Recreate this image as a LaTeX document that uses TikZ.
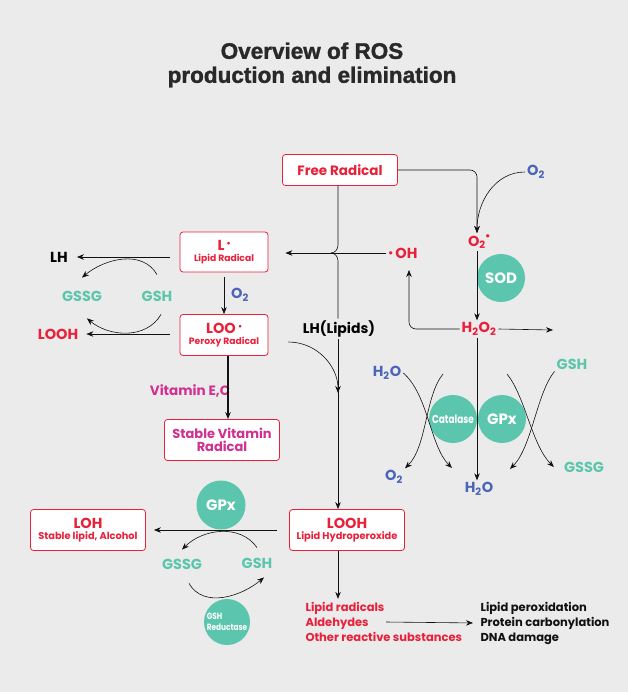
\documentclass[tikz,border=0pt]{standalone}
\usepackage{fontspec}
\setmainfont{Poppins}
\newfontfamily\titlefont[BoldFeatures={FakeBold=1.5}]{Liberation Sans}
\usetikzlibrary{positioning,arrows.meta}
\definecolor{paper}{HTML}{EBEBEB}
\definecolor{rosred}{HTML}{E8203A}
\definecolor{enzteal}{HTML}{5BC6AD}
\definecolor{oxblue}{HTML}{4A64B8}
\definecolor{vitpink}{HTML}{D22F90}
\definecolor{ink}{HTML}{111111}
\newcommand{\rdot}{\raisebox{0.55ex}{\scalebox{0.5}{$\bullet$}}}
\newcommand{\two}{\textsubscript{2}}
\tikzset{
  rbox/.style={draw=rosred,fill=white,rounded corners=3pt,line width=0.8pt,align=center,text=rosred,inner sep=2pt,font=\bfseries\fontsize{14.5}{15}\selectfont},
  enz/.style={circle,fill=enzteal,text=white,inner sep=0pt,minimum size=48pt,align=center,font=\bfseries\fontsize{15}{16}\selectfont},
  mol/.style={font=\bfseries\fontsize{14.5}{16}\selectfont,inner sep=2pt},
  listtxt/.style={font=\bfseries\fontsize{11.5}{15}\selectfont,align=left,anchor=west},
  boxsub/.style={font=\bfseries\fontsize{9.8}{11}\selectfont},
  flow/.style={-{Stealth[length=7pt,width=5.5pt]},draw=ink,line width=0.6pt},
  link/.style={draw=ink,line width=0.6pt}}

\begin{document}
\begin{tikzpicture}[x=1pt,y=1pt]
  \useasboundingbox[fill=paper] (0,0) rectangle (628,-692);
  \node[font=\titlefont\bfseries\fontsize{22.5}{24}\selectfont,text=ink!90,align=center] (title) at (312,-65)
    {Overview of ROS\\production and elimination};
  % sources
  \node[rbox,font=\bfseries\fontsize{13.5}{15}\selectfont,minimum width=115pt,minimum height=31pt] (fr) at (340,-170) {Free Radical};
  \node[rbox,minimum width=88pt,minimum height=40pt] (lrad) at (224,-252)
    {L\,\rdot\\[-4pt]{\fontsize{9.2}{10}\selectfont Lipid Radical}};
  \node[rbox,minimum width=88pt,minimum height=41pt] (loo) at (224,-335)
    {LOO\,\rdot\\[-4pt]{\fontsize{9.2}{10}\selectfont Peroxy Radical}};
  \node[mol] (lh) at (59,-257) {LH};
  \node[mol,text=enzteal] (gssgA) at (82,-296) {GSSG};
  \node[mol,text=enzteal] (gshA) at (157,-296) {GSH};
  \node[mol,text=rosred] (loohA) at (58,-334) {LOOH};
  \node[mol,text=oxblue] (o2A) at (240,-295) {O\two};
  \node[mol,font=\bfseries\fontsize{14}{16}\selectfont] (lhl) at (339,-329) {LH(Lipids)};
  \node[mol,text=rosred] (oh) at (403,-253) {\raisebox{0.3ex}{\scalebox{0.6}{$\bullet$}}\,OH};
  % superoxide side
  \node[mol,text=oxblue] (o2B) at (536,-172) {O\two};
  \node[mol,text=rosred] (supox) at (479,-242) {O\two\raisebox{0.9ex}{\scalebox{0.6}{$\bullet$}}};
  \node[enz] (sod) at (501,-278) {SOD};
  \node[mol,text=rosred] (hp) at (479,-329) {H\two O\two};
  \node[enz,font=\bfseries\fontsize{11.5}{12}\selectfont] (cat) at (453,-419) {\scalebox{0.78}[1]{Catalase}};
  \node[enz] (gpxA) at (502,-419) {GPx};
  \node[mol,text=oxblue] (h2oA) at (387,-373) {H\two O};
  \node[mol,text=enzteal] (gshB) at (572,-364) {GSH};
  \node[mol,text=oxblue] (o2C) at (394,-477) {O\two};
  \node[mol,text=oxblue] (h2oB) at (479,-489) {H\two O};
  \node[mol,text=enzteal] (gssgB) at (584,-467) {GSSG};
  % peroxyl branch
  \node[mol,text=vitpink,font=\bfseries\fontsize{13.5}{14}\selectfont] (vit) at (190,-391) {Vitamin E,C};
  \node[rbox,text=vitpink,font=\bfseries\fontsize{13}{15}\selectfont,minimum width=115pt,minimum height=41pt] (svr) at (222,-440)
    {Stable Vitamin\\[-2pt]Radical};
  \node[rbox,minimum width=115pt,minimum height=41pt] (looh) at (347,-530)
    {LOOH\\[-4pt]{\fontsize{9.8}{10}\selectfont Lipid Hydroperoxide}};
  \node[rbox,minimum width=115pt,minimum height=41pt] (loh) at (88,-530)
    {LOH\\[-4pt]{\fontsize{9.8}{10}\selectfont Stable lipid, Alcohol}};
  \node[enz,minimum size=49pt] (gpxB) at (221,-505) {GPx};
  \node[mol,text=enzteal] (gssgC) at (182,-564) {GSSG};
  \node[mol,text=enzteal] (gshC) at (257,-563) {GSH};
  \node[enz,minimum size=46pt,font=\bfseries\fontsize{9}{11}\selectfont,align=left] (gshr) at (227,-622)
    {\scalebox{0.82}[1]{GSH}\\\scalebox{0.82}[1]{Reductase}};
  \node[listtxt,text=rosred] (prod) at (302,-622) {Lipid radicals\\Aldehydes\\Other reactive substances};
  \node[listtxt,text=ink] (harm) at (477,-623) {Lipid peroxidation\\Protein carbonylation\\DNA damage};

  \coordinate (jn) at (331,-253);
  \coordinate (merge) at (338,-393);
  \coordinate (hpout) at (553,-330);
  \coordinate (ohin) at (409,-270);
  \coordinate (ald) at (386,-622);
  \coordinate (catA) at (452,-468);
  \coordinate (catB) at (443,-374);
  \coordinate (gpxC) at (510,-469);
  \coordinate (gpxD) at (507,-374);

  % free radical attack on lipids
  \draw[link] (fr.south -| merge) -- ([yshift=8pt]jn -| merge) to[out=-90,in=0] (jn);
  \draw[link] (lhl.north -| merge) -- ([yshift=-8pt]jn -| merge) to[out=90,in=0] (jn);
  \draw[flow,shorten >=17pt] (oh.west) -- (oh -| lrad.east);
  \draw[flow,shorten <=10pt,shorten >=7pt] (lh -| lrad.west) -- (lh.east);
  \draw[flow,shorten <=10pt,shorten >=6pt] (loohA -| loo.west) -- (loohA.east);
  \draw[flow] ([yshift=14pt]gshA.north) to[out=120,in=40] ([yshift=11pt]gssgA.north);
  \draw[flow] ([xshift=4pt,yshift=-11pt]gshA.south) to[out=-120,in=-40] ([xshift=5pt,yshift=-15pt]gssgA.south);
  \draw[flow,shorten <=5pt] (lrad.south) -- (lrad.south |- loo.north);
  \draw[flow,line width=1.2pt] ([xshift=4pt]loo.south) -- ([xshift=4pt]loo.south |- svr.north);
  \draw[flow] ([xshift=20pt,yshift=-7pt]loo.east) to[out=0,in=90] (merge);
  \draw[flow] (lhl.south -| merge) -- (merge |- looh.north);
  % superoxide and peroxide
  \draw[flow,rounded corners=7pt] (fr.east) -| ([xshift=-2pt]supox.north);
  \draw[flow] (o2B.west) to[out=180,in=90] ([xshift=-2pt]supox.north);
  \draw[flow] ([xshift=-2pt]supox.south) -- ([xshift=-2pt]supox.south |- hp.north);
  \draw[flow] (hp.east) -- (hpout);
  \draw[flow,rounded corners=7pt] (hp.west) -| (ohin);
  \draw[flow] ([xshift=-2pt]hp.south) -- ([xshift=-2pt]hp.south |- h2oB.north);
  \draw[flow] (h2oA.east) .. controls +(25,-22) and +(-22,22) .. (catA);
  \draw[flow] (catB) .. controls +(-18,-22) and +(22,22) .. (o2C.north east);
  \draw[flow] (gshB.south west) .. controls +(-18,-22) and +(22,22) .. (gpxC);
  \draw[flow] (gpxD) .. controls +(18,-22) and +(-22,22) .. ([xshift=-8pt]gssgB.west);
  % hydroperoxide
  \draw[flow,shorten <=12pt,shorten >=8pt] (looh.west) -- (looh -| loh.east);
  \draw[flow] ([yshift=8pt]gshC.north) to[out=125,in=45] ([yshift=7pt]gssgC.north);
  \draw[flow] ([xshift=7pt,yshift=-12pt]gssgC.south) to[out=-60,in=-140] ([xshift=7pt,yshift=-7pt]gshC.south);
  \draw[flow] (looh.south -| merge) -- (merge |- prod.north);
  \draw[flow,shorten >=4pt] (ald) -- (harm.west);
\end{tikzpicture}
\end{document}
